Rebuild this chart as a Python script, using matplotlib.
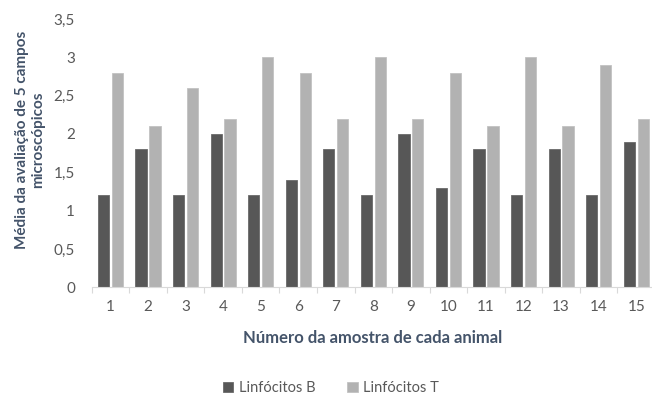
import matplotlib
matplotlib.use("Agg")
import matplotlib.pyplot as plt
import numpy as np

amostras = [str(i) for i in range(1, 16)]
linfocitos_b = [1.2, 1.8, 1.2, 2.0, 1.2, 1.4, 1.8, 1.2, 2.0, 1.3, 1.8, 1.2, 1.8, 1.2, 1.9]
linfocitos_t = [2.8, 2.1, 2.6, 2.2, 3.0, 2.8, 2.2, 3.0, 2.2, 2.8, 2.1, 3.0, 2.1, 2.9, 2.2]
y_ticks = [0, 0.5, 1, 1.5, 2, 2.5, 3, 3.5]
y_tick_labels = ["0", "0,5", "1", "1,5", "2", "2,5", "3", "3,5"]

plt.rcParams['font.family'] = ['Lato', 'DejaVu Sans']

fig = plt.figure(figsize=(6.52, 3.97), dpi=100)
ax = fig.add_axes([91.7 / 652, 1 - 287.3 / 397, 563.3 / 652, 268.3 / 397])

x = np.arange(len(amostras))
w = 0.30
gap = 0.07
ax.bar(x - (w + gap) / 2, linfocitos_b, width=w, color="#575757",
       edgecolor="#6a6a6a", linewidth=0.6, label="Linfócitos B")
ax.bar(x + (w + gap) / 2, linfocitos_t, width=w, color="#b2b2b2",
       edgecolor="#c2c2c2", linewidth=0.6, label="Linfócitos T")

ax.set_xlim(-0.5, len(amostras) - 0.5)
ax.set_ylim(0, 3.5)

ax.set_yticks(y_ticks)
ax.set_yticklabels(y_tick_labels, color="#595959", fontsize=11)
ax.tick_params(axis="y", length=0, pad=12)

ax.set_xticks(x)
ax.set_xticklabels(amostras, color="#595959", fontsize=11)
ax.tick_params(axis="x", length=0, pad=9)
ax.set_xticks(np.arange(-0.5, len(amostras)), minor=True)
ax.tick_params(axis="x", which="minor", length=4, color="#d9d9d9", width=0.8)

for s in ["top", "right", "left"]:
    ax.spines[s].set_visible(False)
ax.spines["bottom"].set_color("#d9d9d9")
ax.spines["bottom"].set_linewidth(0.8)

label_color = "#44546a"
fig.text(30 / 652, 1 - 140 / 397, "Média da avaliação de 5 campos\nmicroscópicos",
         rotation=90, ha="center", va="center", fontsize=11, fontweight="bold",
         color=label_color, linespacing=1.25)
fig.text(373 / 652, 1 - 338 / 397, "Número da amostra de cada animal",
         ha="center", va="center", fontsize=12, fontweight="bold", color=label_color)

fig.legend(loc="center", bbox_to_anchor=(331 / 652, 1 - 388 / 397), ncol=2,
           frameon=False, fontsize=10.5, labelcolor="#595959",
           handlelength=0.7, handleheight=0.7, handletextpad=0.4, columnspacing=2.2)

fig.savefig("out.png", dpi=100)
